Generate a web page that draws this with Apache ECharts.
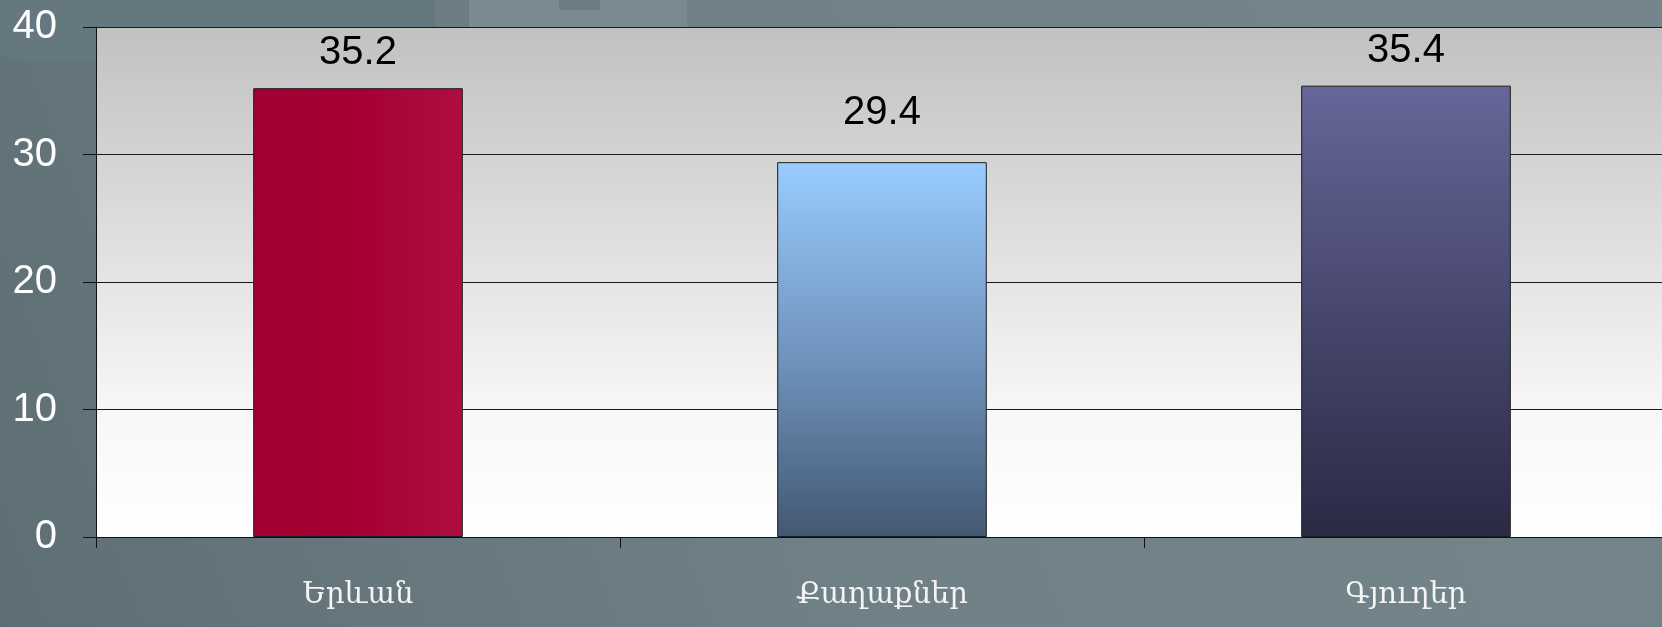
<!DOCTYPE html>
<html>
    <head>
        <meta charset="utf-8">
        <title>Բնակչություն</title>
        <script src="https://cdn.jsdelivr.net/npm/echarts@6/dist/echarts.min.js"></script>
        <style>
            html, body { margin: 0; padding: 0; background: #6f8187; overflow: hidden; }
        </style>
    </head>
    <body>
        <!-- plot runs a few pixels past the right edge, as in the slide -->
        <div id="main" style="width:1668px;height:627px;"></div>
        <script type="text/javascript">
            var categories = ['Երևան', 'Քաղաքներ', 'Գյուղեր'];
            var values = [35.2, 29.4, 35.4];
            var yTicks = [0, 10, 20, 30, 40];

            // bar fills, one per category
            var barFills = [
                new echarts.graphic.LinearGradient(0, 0, 1, 0, [
                    { offset: 0, color: '#a20032' },
                    { offset: 0.5, color: '#a50034' },
                    { offset: 1, color: '#ae0e3f' }
                ]),
                new echarts.graphic.LinearGradient(0, 0, 0, 1, [
                    { offset: 0, color: '#99ccff' },
                    { offset: 0.55, color: '#6d90b8' },
                    { offset: 1, color: '#435873' }
                ]),
                new echarts.graphic.LinearGradient(0, 0, 0, 1, [
                    { offset: 0, color: '#666699' },
                    { offset: 0.55, color: '#44446a' },
                    { offset: 1, color: '#2b2a44' }
                ])
            ];
            var labelGap = [15, 29, 15];

            var mychart = echarts.init(document.getElementById('main'));
            var option = {
                backgroundColor: new echarts.graphic.LinearGradient(0, 1, 1, 0, [
                    { offset: 0, color: '#5d6e75' },
                    { offset: 0.45, color: '#6f8187' },
                    { offset: 1, color: '#74868c' }
                ]),
                animation: false,
                graphic: [
                    {   // darker rounded shape top-left
                        type: 'rect', z: -10, silent: true,
                        shape: { x: -20, y: -60, width: 455, height: 120, r: 40 },
                        style: { fill: '#66787f' }
                    },
                    {
                        type: 'rect', z: -10, silent: true,
                        shape: { x: 469, y: 0, width: 218, height: 40 },
                        style: { fill: '#798b91' }
                    },
                    {
                        type: 'rect', z: -9, silent: true,
                        shape: { x: 559, y: 0, width: 41, height: 10 },
                        style: { fill: '#6c7e84' }
                    }
                ],
                grid: {
                    left: 96,
                    right: 0,
                    top: 27,
                    bottom: 90,
                    show: true,
                    borderWidth: 0,
                    backgroundColor: new echarts.graphic.LinearGradient(0, 0, 0, 1, [
                        { offset: 0, color: '#c1c1c1' },
                        { offset: 0.5, color: '#e5e5e5' },
                        { offset: 0.75, color: '#f7f7f7' },
                        { offset: 1, color: '#ffffff' }
                    ])
                },
                xAxis: {
                    type: 'category',
                    data: categories,
                    axisLine: { lineStyle: { color: '#111', width: 1 } },
                    axisTick: { show: true, length: 11, lineStyle: { color: '#111' } },
                    axisLabel: {
                        color: '#f4f4f4',
                        fontSize: 29,
                        fontFamily: 'DejaVu Serif',
                        margin: 44
                    }
                },
                yAxis: {
                    type: 'value',
                    min: yTicks[0],
                    max: yTicks[yTicks.length - 1],
                    interval: 10,
                    axisLine: { show: true, lineStyle: { color: '#111', width: 1 } },
                    axisTick: { show: true, length: 13, lineStyle: { color: '#111' } },
                    splitLine: { lineStyle: { color: '#1a1a1a', width: 1 } },
                    axisLabel: {
                        color: '#ffffff',
                        fontSize: 40,
                        fontFamily: 'Liberation Sans, Arial',
                        margin: 39
                    }
                },
                series: [
                    {
                        type: 'bar',
                        barWidth: '40%',
                        data: values.map(function (v, i) {
                            return {
                                value: v,
                                itemStyle: { color: barFills[i] },
                                label: { distance: labelGap[i] }
                            };
                        }),
                        itemStyle: { borderColor: '#1c1c1c', borderWidth: 1 },
                        label: {
                            show: true,
                            position: 'top',
                            color: '#000',
                            fontSize: 40,
                            fontFamily: 'Liberation Sans, Arial'
                        }
                    }
                ]
            };
            mychart.setOption(option);
        </script>
    </body>
</html>
